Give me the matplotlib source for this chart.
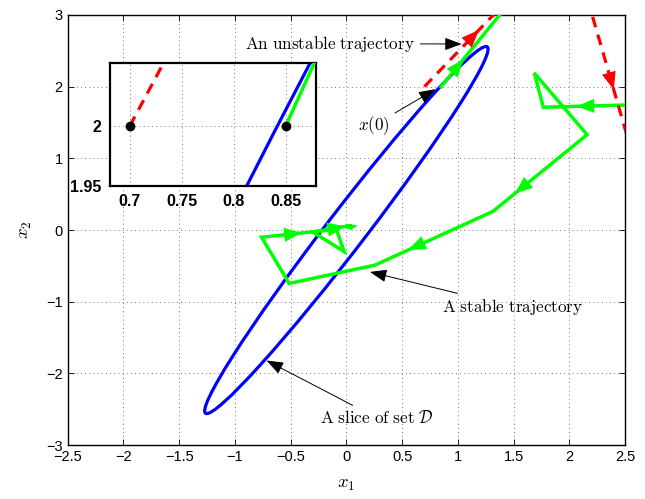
import matplotlib
matplotlib.use("Agg")
import matplotlib.pyplot as plt
from matplotlib.patches import Ellipse

plt.rcParams['mathtext.fontset'] = 'cm'
plt.rcParams['font.family'] = ['Liberation Sans', 'DejaVu Sans']

# unstable trajectory (red, dashed)
red_x1 = [0.70, 2.00, 2.70]
red_x2 = [2.00, 4.10, 0.34]

# stable trajectory (green)
green_x1 = [0.85, 1.90, 3.20, 2.90, 1.767, 1.686, 2.16, 1.315, 0.256, -0.513,
            -0.761, -0.09, -0.02, -0.30, 0.02, 0.06, 0.03, 0.05, 0.02]
green_x2 = [2.00, 4.00, 3.00, 1.76, 1.713, 2.19, 1.33, 0.26, -0.49, -0.745,
            -0.10, 0.01, -0.30, -0.03, 0.06, 0.05, 0.02, 0.06, 0.04]

# slice of the set D (ellipse centred at the origin)
ell_center = (0.0, 0.0)
ell_semi_major = 2.852
ell_semi_minor = 0.196
ell_angle = 63.8

# initial states shown in the zoomed inset
x0_x1 = [0.70, 0.85]
x0_x2 = [2.00, 2.00]

# arrowheads along the trajectories: (segment index, fraction along segment)
green_arrows = [(0, 0.19), (3, 0.737), (6, 0.767), (7, 0.718), (10, 0.54), (13, 0.9)]
red_arrows = [(0, 0.377), (1, 0.57)]

xticks = [-2.5, -2, -1.5, -1, -0.5, 0, 0.5, 1, 1.5, 2, 2.5]
yticks = [-3, -2, -1, 0, 1, 2, 3]
inset_xticks = [0.7, 0.75, 0.8, 0.85]
inset_yticks = [1.95, 2]

RED = (1, 0, 0)
GREEN = (0, 1, 0)
BLUE = (0, 0, 1)


def draw_paths(ax):
    ax.add_patch(Ellipse(ell_center, 2 * ell_semi_major, 2 * ell_semi_minor,
                         angle=ell_angle, fill=False, ec=BLUE, lw=2.3, zorder=2))
    ax.plot(green_x1, green_x2, color=GREEN, lw=2.5, zorder=3,
            solid_joinstyle='miter')
    ax.plot(red_x1, red_x2, color=RED, lw=2.3, ls=(0, (3.4, 2.4)), zorder=4)


def add_heads(ax, xs, ys, arrows, color):
    for i, f in arrows:
        x0, y0, x1, y1 = xs[i], ys[i], xs[i + 1], ys[i + 1]
        tip = (x0 + f * (x1 - x0), y0 + f * (y1 - y0))
        tail = (x0 + (f - 0.02) * (x1 - x0), y0 + (f - 0.02) * (y1 - y0))
        ax.annotate('', xy=tip, xytext=tail, zorder=5,
                    arrowprops=dict(arrowstyle='-|>,head_length=0.85,head_width=0.34',
                                    color=color, lw=0, mutation_scale=15,
                                    shrinkA=0, shrinkB=0))


def style(ax, lw):
    ax.grid(True, color='0.3', ls=(0, (1, 4)), lw=0.6)
    ax.tick_params(direction='in', top=True, right=True, length=4, width=0.6)
    for s in ax.spines.values():
        s.set_linewidth(lw)


fig = plt.figure(figsize=(6.45, 4.99), dpi=100)
ax = fig.add_axes([0.105, 0.108, 0.864, 0.862])
draw_paths(ax)
add_heads(ax, green_x1, green_x2, green_arrows, GREEN)
add_heads(ax, red_x1, red_x2, red_arrows, RED)
ax.set_xlim(-2.5, 2.5)
ax.set_ylim(-3, 3)
ax.set_xticks(xticks)
ax.set_yticks(yticks)
ax.set_xticklabels([f'{v:g}'.replace('-', '\u2212') for v in xticks], fontsize=10.5)
ax.set_yticklabels([f'{v:g}'.replace('-', '\u2212') for v in yticks], fontsize=10.5)
style(ax, 1.0)
ax.set_xlabel(r'$x_1$', fontsize=13.5, labelpad=9)
ax.set_ylabel(r'$x_2$', fontsize=13.5, labelpad=9)

ap = dict(arrowstyle='-|>,head_length=0.8,head_width=0.3', color='k', lw=0.7,
          mutation_scale=13, shrinkA=2, shrinkB=0)
tfs = 12.3
ax.annotate(r'$\mathrm{An\ unstable\ trajectory}$', xy=(1.034, 2.595),
            xytext=(0.615, 2.6), ha='right', va='center', fontsize=tfs,
            arrowprops=ap, zorder=6)
ax.annotate(r'$x(0)$', xy=(0.80, 1.965), xytext=(0.247, 1.46),
            ha='center', va='center', fontsize=tfs, arrowprops=ap, zorder=6)
ax.annotate(r'$\mathrm{A\ stable\ trajectory}$', xy=(0.211, -0.584),
            xytext=(0.855, -1.07), ha='left', va='center', fontsize=tfs,
            arrowprops=ap, zorder=6)
ax.annotate(r'$\mathrm{A\ slice\ of\ set\ }\mathcal{D}$', xy=(-0.716, -1.82),
            xytext=(-0.238, -2.62), ha='left', va='center', fontsize=tfs,
            arrowprops=ap, zorder=6)

# zoomed inset around the initial states
ins = fig.add_axes([0.1705, 0.627, 0.319, 0.2465])
draw_paths(ins)
ins.plot(x0_x1, x0_x2, 'o', color='k', ms=6, zorder=6)
ins.set_xlim(0.681, 0.879)
ins.set_ylim(1.95, 2.0525)
ins.set_xticks(inset_xticks)
ins.set_yticks(inset_yticks)
ins.set_xticklabels([f'{v:g}' for v in inset_xticks], fontsize=11.5, fontweight='bold')
ins.set_yticklabels([f'{v:g}' for v in inset_yticks], fontsize=11.5, fontweight='bold')
style(ins, 1.6)
ins.tick_params(length=0, pad=6)

fig.savefig('out.png', dpi=100)
